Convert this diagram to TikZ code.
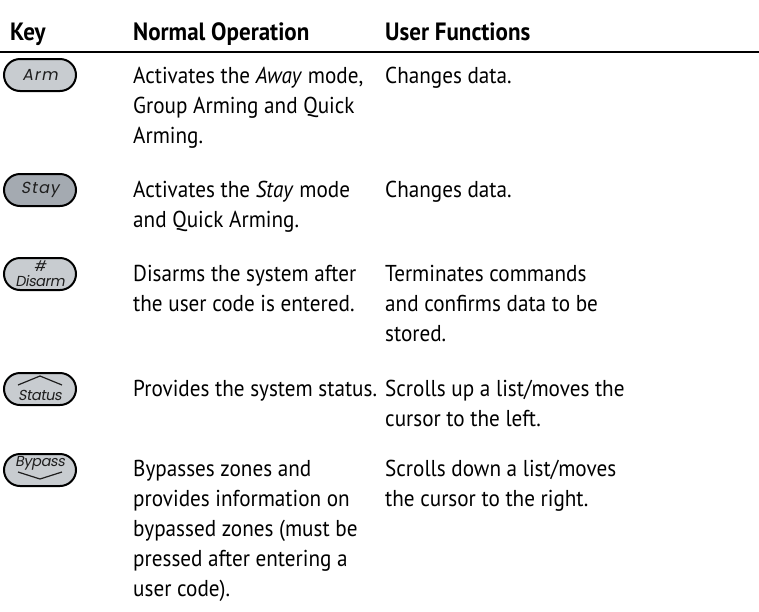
\documentclass[tikz,border=0pt]{standalone}
\usepackage{fontspec}
\setmainfont[FakeStretch=0.92]{PT Sans}
\newfontfamily\keyfont[FakeSlant=0.18,LetterSpace=7]{Poppins}
\newfontfamily\keytight[FakeSlant=0.18,LetterSpace=-3]{Poppins}
\definecolor{keyfill}{HTML}{C8CCD0}
\definecolor{keyfilldark}{HTML}{A4AAB1}
\definecolor{keyink}{HTML}{1E1E1E}

\begin{document}
\begin{tikzpicture}[x=1pt,y=-1pt,
  keybox/.style={draw=black, line width=2pt, rounded corners=16pt,
    minimum width=72pt, minimum height=32pt, inner sep=0pt,
    fill=keyfill, text=keyink, font=\keyfont\fontsize{16}{17}\selectfont},
  keyword/.style={font=\keytight\fontsize{14.5}{15}\selectfont, text=keyink, inner sep=0pt},
  keymark/.style={draw=keyink, line width=1.2pt, line join=miter},
  head/.style={anchor=base west, inner sep=0pt, font=\bfseries\fontsize{25}{28}\selectfont},
  cell/.style={anchor=base west, inner sep=0pt, font=\fontsize{23}{30}\selectfont},
]
\useasboundingbox (0,0) rectangle (759,611);

% column headings and rule
\node[head] (hkey)  at (10,40)  {Key};
\node[head] (hnorm) at (133,40) {Normal Operation};
\node[head] (huser) at (385,40) {User Functions};
\coordinate (ruleL) at (0,52);
\coordinate (ruleR) at (759,52);
\draw[line width=2pt] (ruleL) -- (ruleR);

% keys
\node[keybox] (karm) at (40,75) {Arm};
\node[keybox, fill=keyfilldark] (kstay) at (40,190) {Stay};
\node[keybox] (kdis) at (40,274) {};
\node[keyword] (thash) at (40,266) {\#};
\node[keyword] (tdis) at (40,281) {Disarm};
\node[keybox] (kstat) at (40,389) {};
\node[keyword] (tstat) at (40,395) {Status};
\draw[keymark] (kstat.center) ++(-22,-4) -- ++(22,-9) -- ++(22,9);
\node[keybox] (kbyp) at (40,470) {};
\node[keyword] (tbyp) at (40,463) {Bypass};
\draw[keymark] (kbyp.center) ++(-22,2) -- ++(22,7) -- ++(22,-7);

% normal operation column
\node[cell] (n1) at (133,83) {\parbox[t]{260pt}{\raggedright Activates the \textit{Away} mode,\\Group Arming and Quick\\Arming.}};
\node[cell] (n2) at (133,197) {\parbox[t]{260pt}{\raggedright Activates the \textit{Stay} mode\\and Quick Arming.}};
\node[cell] (n3) at (133,281) {\parbox[t]{260pt}{\raggedright Disarms the system after\\the user code is entered.}};
\node[cell] (n4) at (133,396) {\parbox[t]{260pt}{\raggedright Provides the system status.}};
\node[cell] (n5) at (133,476) {\parbox[t]{260pt}{\raggedright Bypasses zones and\\provides information on\\bypassed zones (must be\\pressed after entering a\\user code).}};

% user functions column
\node[cell] (u1) at (385,83) {\parbox[t]{300pt}{\raggedright Changes data.}};
\node[cell] (u2) at (385,197) {\parbox[t]{300pt}{\raggedright Changes data.}};
\node[cell] (u3) at (385,281) {\parbox[t]{300pt}{\raggedright Terminates commands\\and confirms data to be\\stored.}};
\node[cell] (u4) at (385,396) {\parbox[t]{300pt}{\raggedright Scrolls up a list/moves the\\cursor to the left.}};
\node[cell] (u5) at (385,476) {\parbox[t]{300pt}{\raggedright Scrolls down a list/moves\\the cursor to the right.}};
\end{tikzpicture}
\end{document}
